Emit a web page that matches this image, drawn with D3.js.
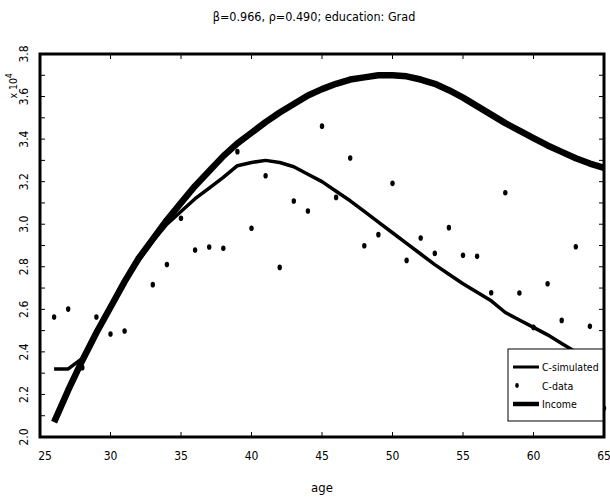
<!DOCTYPE html>
<html>
<head>
<meta charset="utf-8">
<script src="https://cdn.jsdelivr.net/npm/d3@7"></script>
<style>
    body { margin: 0; background: #fff; }
    text { font-family: "DejaVu Sans Condensed", "DejaVu Sans", sans-serif; font-stretch: condensed; fill: #000; }
</style>
</head>
<body>
<div id="chart"></div>
<script>
// consumption vs income life-cycle plot

const ages = d3.range(26, 66);

// C-simulated (x 10^4)
const cSim = [2.32, 2.32, 2.37, 2.50, 2.62, 2.73, 2.83, 2.92, 3.00, 3.06,
    3.12, 3.17, 3.22, 3.275, 3.29, 3.30, 3.29, 3.27, 3.235, 3.20,
    3.155, 3.11, 3.06, 3.01, 2.96, 2.91, 2.86, 2.81, 2.765, 2.72,
    2.68, 2.64, 2.585, 2.55, 2.515, 2.48, 2.44, 2.40, 2.355, 2.31];

// C-data (x 10^4); ages 32 and 60 sit under the lines
const cData = [2.564, 2.601, 2.326, 2.564, 2.484, 2.498, 2.835, 2.716, 2.811, 3.028,
    2.879, 2.893, 2.887, 3.341, 2.981, 3.228, 2.797, 3.109, 3.062, 3.461,
    3.126, 3.311, 2.899, 2.951, 3.192, 2.830, 2.935, 2.863, 2.984, 2.854,
    2.849, 2.678, 3.148, 2.677, 2.515, 2.720, 2.548, 2.894, 2.520, 2.135];

// Income (x 10^4)
const income = [2.07, 2.22, 2.36, 2.49, 2.61, 2.73, 2.84, 2.93, 3.02, 3.10,
    3.18, 3.25, 3.32, 3.38, 3.43, 3.48, 3.525, 3.565, 3.605, 3.635,
    3.66, 3.68, 3.69, 3.70, 3.70, 3.695, 3.68, 3.66, 3.63, 3.595,
    3.555, 3.515, 3.475, 3.44, 3.405, 3.37, 3.34, 3.31, 3.285, 3.265];

const xTicks = [25, 30, 35, 40, 45, 50, 55, 60, 65];
const yLabelTicks = [2.0, 2.2, 2.4, 2.6, 2.8, 3.0, 3.2, 3.4, 3.6, 3.8];
const yMinorTicks = d3.range(20, 39).map(d => d / 10);

const width = 610, height = 500;
const margin = {top: 54, right: 6, bottom: 63, left: 40};

const svg = d3.select("#chart").append("svg")
    .attr("width", width)
    .attr("height", height);

const x = d3.scaleLinear().domain([25, 65]).range([margin.left, width - margin.right]);
const y = d3.scaleLinear().domain([2.0, 3.8]).range([height - margin.bottom, margin.top]);

// title
svg.append("text")
    .attr("x", 314).attr("y", 21)
    .attr("text-anchor", "middle")
    .style("font-size", "12.5px")
    .text("\u03B2=0.966, \u03C1=0.490; education: Grad");

// lines
const line = d3.line().x((d, i) => x(ages[i])).y(d => y(d));

svg.append("path")
    .datum(income)
    .attr("d", line)
    .attr("fill", "none")
    .attr("stroke", "#000")
    .attr("stroke-width", 6.5)
    .attr("stroke-linejoin", "round");

svg.append("path")
    .datum(cSim)
    .attr("d", line)
    .attr("fill", "none")
    .attr("stroke", "#000")
    .attr("stroke-width", 3.5)
    .attr("stroke-linejoin", "round");

// data dots
svg.append("g")
    .selectAll("ellipse")
    .data(cData)
    .join("ellipse")
    .attr("cx", (d, i) => x(ages[i]))
    .attr("cy", d => y(d))
    .attr("rx", 2.2)
    .attr("ry", 2.8)
    .attr("fill", "#000");

// ticks (inward)
const axisG = svg.append("g").attr("stroke", "#000").attr("stroke-width", 1);
xTicks.slice(1, -1).forEach(t => {
    axisG.append("line").attr("x1", x(t)).attr("x2", x(t))
        .attr("y1", y(2.0)).attr("y2", y(2.0) - 5);
    axisG.append("line").attr("x1", x(t)).attr("x2", x(t))
        .attr("y1", y(3.8)).attr("y2", y(3.8) + 5);
});
yMinorTicks.slice(1).forEach(t => {
    axisG.append("line").attr("x1", x(25)).attr("x2", x(25) + 5)
        .attr("y1", y(t)).attr("y2", y(t));
    axisG.append("line").attr("x1", x(65)).attr("x2", x(65) - 5)
        .attr("y1", y(t)).attr("y2", y(t));
});

// frame
svg.append("rect")
    .attr("x", x(25)).attr("y", y(3.8))
    .attr("width", x(65) - x(25))
    .attr("height", y(2.0) - y(3.8))
    .attr("fill", "none")
    .attr("stroke", "#000")
    .attr("stroke-width", 3);

// x tick labels
svg.append("g")
    .selectAll("text")
    .data(xTicks)
    .join("text")
    .attr("x", d => x(d) + (d === 25 ? 5 : 0))
    .attr("y", 460)
    .attr("text-anchor", "middle")
    .style("font-size", "12px")
    .text(d => d);

// y tick labels, rotated
svg.append("g")
    .selectAll("text")
    .data(yLabelTicks)
    .join("text")
    .attr("transform", d => `translate(28,${y(d)}) rotate(-90)`)
    .attr("text-anchor", "middle")
    .style("font-size", "12px")
    .text(d => d.toFixed(1));

// exponent
const ex = svg.append("text")
    .attr("transform", "translate(17,86) rotate(-90)")
    .attr("text-anchor", "middle")
    .style("font-size", "10.5px");
ex.append("tspan").text("x 10");
ex.append("tspan").attr("dy", -5).style("font-size", "8px").text("4");

// x label
svg.append("text")
    .attr("x", 322).attr("y", 492)
    .attr("text-anchor", "middle")
    .style("font-size", "13px")
    .text("age");

// legend
const leg = svg.append("g");
leg.append("rect")
    .attr("x", 508).attr("y", 349)
    .attr("width", 95).attr("height", 72)
    .attr("fill", "#fff")
    .attr("stroke", "#000")
    .attr("stroke-width", 1);

const legItems = [
    {name: "C-simulated", type: "line", w: 3},
    {name: "C-data", type: "dot"},
    {name: "Income", type: "line", w: 4.5}
];
legItems.forEach((d, i) => {
    const ly = 367 + i * 18.5;
    if (d.type === "line") {
        leg.append("line")
            .attr("x1", 513).attr("x2", 539)
            .attr("y1", ly).attr("y2", ly)
            .attr("stroke", "#000")
            .attr("stroke-width", d.w);
    } else {
        leg.append("ellipse")
            .attr("cx", 517).attr("cy", ly)
            .attr("rx", 1.8).attr("ry", 2.4)
            .attr("fill", "#000");
    }
    leg.append("text")
        .attr("x", 542).attr("y", ly + 4)
        .style("font-size", "10.5px")
        .text(d.name);
});
</script>
</body>
</html>
